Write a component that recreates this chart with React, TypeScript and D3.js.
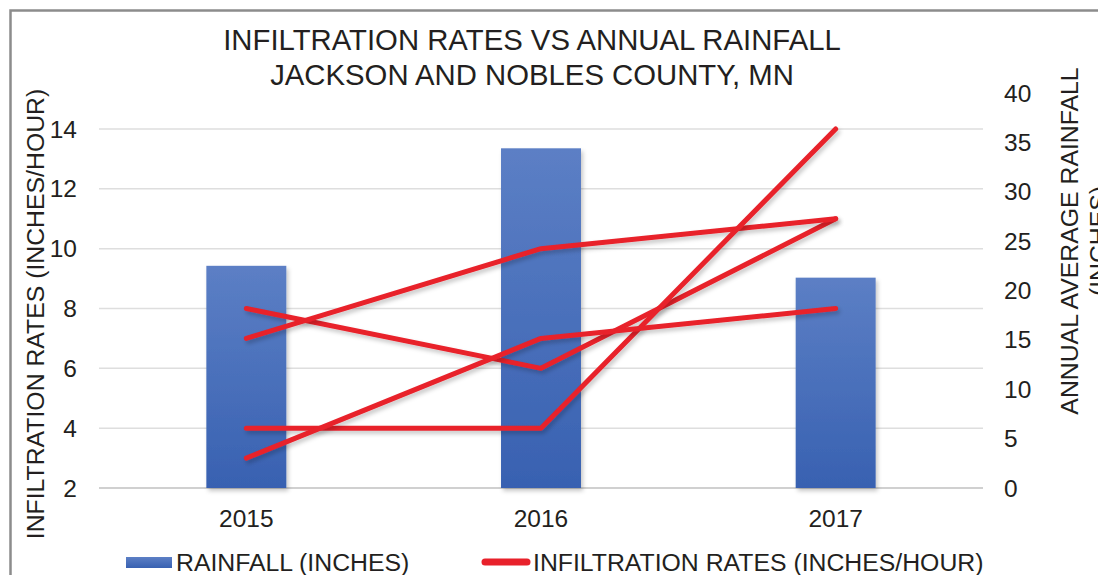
import React, { useEffect, useRef } from 'react'
import * as d3 from 'd3'

const years = ['2015', '2016', '2017']
const rainfall = [22.5, 34.4, 21.3]
// four infiltration test series, all drawn in the same red
const infiltrationA = [8, 6, 11]
const infiltrationB = [7, 10, 11]
const infiltrationC = [4, 4, 14]
const infiltrationD = [3, 7, 8]
const leftTicks = [2, 4, 6, 8, 10, 12, 14]
const rightTicks = [0, 5, 10, 15, 20, 25, 30, 35, 40]

const W = 1098
const H = 575
const font = '"Liberation Sans", Arial, sans-serif'
const ink = '#231f20'
const red = '#e8212b'

export default function App() {
  const ref = useRef<SVGSVGElement>(null)

  useEffect(() => {
    const svg = d3.select(ref.current)
    svg.selectAll('*').remove()

    const defs = svg.append('defs')
    const grad = defs.append('linearGradient').attr('id', 'barGrad')
      .attr('x1', 0).attr('y1', 0).attr('x2', 0).attr('y2', 1)
    grad.append('stop').attr('offset', '0%').attr('stop-color', '#5c7fc5')
    grad.append('stop').attr('offset', '100%').attr('stop-color', '#3861b1')
    const sh = defs.append('filter').attr('id', 'shadow')
      .attr('x', '-10%').attr('y', '-10%').attr('width', '130%').attr('height', '130%')
    sh.append('feDropShadow').attr('dx', 2).attr('dy', 3).attr('stdDeviation', 2)
      .attr('flood-color', '#000').attr('flood-opacity', 0.22)

    const x = d3.scaleBand().domain(years).range([99, 983])
      .paddingInner(0.7286).paddingOuter(0.3643)
    const yLeft = d3.scaleLinear().domain([2, 14]).range([488, 129])
    const yRight = d3.scaleLinear().domain([0, 40]).range([488, 93])
    const cx = (d: string) => (x(d) as number) + x.bandwidth() / 2

    // frame
    svg.append('path').attr('d', `M10.5,${H} V10.5 H${W}`)
      .attr('fill', 'none').attr('stroke', '#8c8c8c').attr('stroke-width', 2.5)

    // title
    const title = svg.append('text').attr('font-family', font).attr('font-size', 29.3)
      .attr('fill', ink).attr('text-anchor', 'middle')
    title.append('tspan').attr('x', 532).attr('y', 50).text('INFILTRATION RATES VS ANNUAL RAINFALL')
    title.append('tspan').attr('x', 532).attr('y', 85).text('JACKSON AND NOBLES COUNTY, MN')

    // gridlines
    svg.append('g').selectAll('line').data(leftTicks).join('line')
      .attr('x1', 99).attr('x2', 983)
      .attr('y1', d => yLeft(d)).attr('y2', d => yLeft(d))
      .attr('stroke', d => d === 2 ? '#d0d0d0' : '#dedede')
      .attr('stroke-width', d => d === 2 ? 2.2 : 1.5)

    // left ticks
    svg.append('g').selectAll('text').data(leftTicks).join('text')
      .attr('x', 77).attr('y', d => yLeft(d)).attr('dy', '0.35em')
      .attr('text-anchor', 'end').attr('font-family', font).attr('font-size', 24.5)
      .attr('fill', ink).text(d => d)

    // right ticks
    svg.append('g').selectAll('text').data(rightTicks).join('text')
      .attr('x', 1004).attr('y', d => yRight(d)).attr('dy', '0.35em')
      .attr('font-family', font).attr('font-size', 24.5)
      .attr('fill', ink).text(d => d)

    // bars
    svg.append('g').selectAll('rect').data(years).join('rect')
      .attr('x', d => x(d) as number).attr('width', x.bandwidth())
      .attr('y', (d, i) => yRight(rainfall[i]))
      .attr('height', (d, i) => yRight(0) - yRight(rainfall[i]))
      .attr('fill', 'url(#barGrad)').attr('filter', 'url(#shadow)')

    // infiltration lines
    const line = d3.line<number>().x((d, i) => cx(years[i])).y(d => yLeft(d))
    svg.append('g').selectAll('path')
      .data([infiltrationA, infiltrationB, infiltrationC, infiltrationD]).join('path')
      .attr('d', d => line(d)).attr('fill', 'none')
      .attr('stroke', red).attr('stroke-width', 5).attr('stroke-linecap', 'round')
      .attr('stroke-linejoin', 'round').attr('filter', 'url(#shadow)')

    // year labels
    svg.append('g').selectAll('text').data(years).join('text')
      .attr('x', d => cx(d)).attr('y', 527).attr('text-anchor', 'middle')
      .attr('font-family', font).attr('font-size', 24.5).attr('fill', ink).text(d => d)

    // axis titles
    svg.append('text').attr('transform', 'translate(44,314) rotate(-90)')
      .attr('text-anchor', 'middle').attr('font-family', font).attr('font-size', 24.8)
      .attr('fill', ink).text('INFILTRATION RATES (INCHES/HOUR)')
    svg.append('text').attr('transform', 'translate(1078,241) rotate(-90)')
      .attr('text-anchor', 'middle').attr('font-family', font).attr('font-size', 24.8)
      .attr('fill', ink).text('ANNUAL AVERAGE RAINFALL')
    svg.append('text').attr('transform', 'translate(1107,241) rotate(-90)')
      .attr('text-anchor', 'middle').attr('font-family', font).attr('font-size', 24.8)
      .attr('fill', ink).text('(INCHES)')

    // legend
    const lg = svg.append('g')
    lg.append('rect').attr('x', 126).attr('y', 557).attr('width', 46).attr('height', 11)
      .attr('fill', 'url(#barGrad)')
    lg.append('text').attr('x', 176).attr('y', 571).attr('font-family', font)
      .attr('font-size', 24.8).attr('fill', ink).text('RAINFALL (INCHES)')
    lg.append('line').attr('x1', 485).attr('x2', 527).attr('y1', 562).attr('y2', 562)
      .attr('stroke', red).attr('stroke-width', 7).attr('stroke-linecap', 'round')
    lg.append('text').attr('x', 533).attr('y', 571).attr('font-family', font)
      .attr('font-size', 24.8).attr('fill', ink).text('INFILTRATION RATES (INCHES/HOUR)')
  }, [])

  return (
    <svg ref={ref} width={W} height={H}
      style={{ position: 'absolute', left: 0, top: 0, background: '#fff' }} />
  )
}
